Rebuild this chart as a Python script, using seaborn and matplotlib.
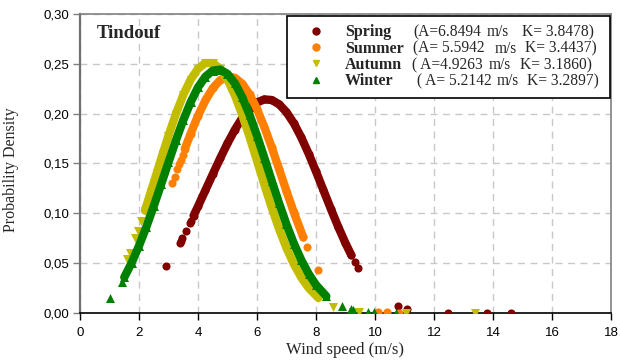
import matplotlib
matplotlib.use("Agg")
import matplotlib.pyplot as plt
import seaborn as sns
import pandas as pd
from matplotlib.lines import Line2D

# ---------------- data ----------------
seasons = ["Spring", "Summer", "Autumn", "Winter"]
A_text = ["(A=6.8494", "(A= 5.5942", "( A=4.9263", "( A= 5.2142"]
unit_text = ["m/s", "m/s", "m/s", "m/s"]
K_text = ["K= 3.8478)", "K= 3.4437)", "K= 3.1860)", "K= 3.2897)"]

# continuous (densely sampled) part of each curve
spring_x = [3.85, 4.0, 4.25, 4.5, 4.75, 5.0, 5.25, 5.5, 5.75, 6.0, 6.25, 6.5,
            6.75, 7.0, 7.25, 7.5, 7.75, 8.0, 8.25, 8.5, 8.75, 9.0, 9.2]
spring_y = [0.0977, 0.1070, 0.1231, 0.1392, 0.1551, 0.1702, 0.1839, 0.1957,
            0.2050, 0.2113, 0.2143, 0.2137, 0.2094, 0.2015, 0.1903, 0.1762,
            0.1599, 0.1420, 0.1233, 0.1047, 0.0867, 0.0700, 0.0579]
summer_x = [3.55, 3.75, 4.0, 4.25, 4.5, 4.75, 5.0, 5.25, 5.5, 5.75, 6.0, 6.25,
            6.5, 6.75, 7.0, 7.25, 7.57]
summer_y = [0.1644, 0.1800, 0.1979, 0.2133, 0.2255, 0.2336, 0.2372, 0.2360,
            0.2300, 0.2193, 0.2046, 0.1865, 0.1661, 0.1443, 0.1223, 0.1009,
            0.0758]
autumn_x = [2.2, 2.4, 2.6, 2.8, 3.0, 3.25, 3.5, 3.75, 4.0, 4.25, 4.5, 4.75,
            5.0, 5.25, 5.5, 5.75, 6.0, 6.25, 6.5, 6.75, 7.0, 7.25, 7.5, 7.75,
            8.08]
autumn_y = [0.1028, 0.1214, 0.1404, 0.1594, 0.1780, 0.1997, 0.2188, 0.2342,
            0.2451, 0.2508, 0.2508, 0.2452, 0.2341, 0.2184, 0.1988, 0.1765,
            0.1527, 0.1287, 0.1056, 0.0842, 0.0652, 0.0490, 0.0357, 0.0252,
            0.0151]
winter_x = [1.5, 1.75, 2.0, 2.25, 2.5, 2.75, 3.0, 3.25, 3.5, 3.75, 4.0, 4.25,
            4.5, 4.75, 5.0, 5.25, 5.5, 5.75, 6.0, 6.25, 6.5, 6.75, 7.0, 7.25,
            7.5, 7.75, 8.0, 8.35]
winter_y = [0.0358, 0.0504, 0.0674, 0.0865, 0.1072, 0.1291, 0.1513, 0.1731,
            0.1934, 0.2115, 0.2264, 0.2371, 0.2432, 0.2442, 0.2399, 0.2305,
            0.2165, 0.1987, 0.1780, 0.1556, 0.1325, 0.1100, 0.0888, 0.0697,
            0.0532, 0.0393, 0.0282, 0.0168]

# isolated points
spring_px = [2.9, 3.38, 3.42, 3.46, 3.59, 3.72, 3.77, 9.32, 9.43, 10.77,
             11.07, 12.49, 13.78, 14.6]
spring_py = [0.0469, 0.0704, 0.0725, 0.0748, 0.0821, 0.0898, 0.0928, 0.0513,
             0.0456, 0.0068, 0.0039, 0.0001, 0.0, 0.0]
summer_px = [3.13, 3.21, 3.30, 3.36, 3.42, 3.48, 7.70, 8.08, 10.1, 10.4, 10.8]
summer_py = [0.1301, 0.1367, 0.1441, 0.1490, 0.1539, 0.1588, 0.0666, 0.0435,
             0.0012, 0.0008, 0.0004]
autumn_px = [1.6, 1.69, 1.88, 1.97, 2.08, 8.57, 9.27, 9.45, 11.05, 13.4]
autumn_py = [0.0538, 0.0604, 0.0752, 0.0826, 0.0921, 0.0063, 0.0014, 0.0009,
             0.0, 0.0]
winter_px = [1.01, 1.41, 8.88, 9.19, 9.24, 9.76, 9.96, 10.7]
winter_py = [0.0147, 0.0312, 0.0067, 0.0036, 0.0034, 0.0010, 0.0007, 0.0001]

x_ticks = [0, 2, 4, 6, 8, 10, 12, 14, 16, 18]
x_tick_labels = ["0", "2", "4", "6", "8", "10", "12", "14", "16", "18"]
y_ticks = [0.0, 0.05, 0.10, 0.15, 0.20, 0.25, 0.30]
y_tick_labels = ["0,00", "0,05", "0,10", "0,15", "0,20", "0,25", "0,30"]

colors = {"Spring": "#800000", "Summer": "#ff8000",
          "Autumn": "#c2bd00", "Winter": "#008000"}
markers = {"Spring": "o", "Summer": "o", "Autumn": "v", "Winter": "^"}
msize = {"Spring": 34, "Summer": 34, "Autumn": 42, "Winter": 42}

curves = {"Spring": (spring_x, spring_y, spring_px, spring_py),
          "Summer": (summer_x, summer_y, summer_px, summer_py),
          "Autumn": (autumn_x, autumn_y, autumn_px, autumn_py),
          "Winter": (winter_x, winter_y, winter_px, winter_py)}

band_frames, point_frames = [], []
for s in seasons:
    bx, by, px, py = curves[s]
    band_frames.append(pd.DataFrame({"speed": bx, "density": by, "season": s}))
    point_frames.append(pd.DataFrame({"speed": list(bx) + list(px),
                                      "density": list(by) + list(py),
                                      "season": s}))
band = pd.concat(band_frames, ignore_index=True)
points = pd.concat(point_frames, ignore_index=True)

# ---------------- style ----------------
sns.set_style("ticks")
plt.rcParams["font.family"] = ["Liberation Sans", "DejaVu Sans"]
plt.rcParams["lines.solid_capstyle"] = "round"
plt.rcParams["lines.solid_joinstyle"] = "round"
SERIF = ["Liberation Serif", "DejaVu Serif"]

fig = plt.figure(figsize=(6.2, 3.64), dpi=100)
ax = fig.add_axes([0.12903, 0.14011, 0.85645, 0.82143])

for i, s in enumerate(seasons):
    sns.lineplot(data=band[band.season == s], x="speed", y="density",
                 color=colors[s], linewidth=6, sort=False, estimator=None,
                 ax=ax, zorder=3 + i, legend=False)
    sns.scatterplot(data=points[points.season == s], x="speed", y="density",
                    color=colors[s], marker=markers[s], s=msize[s],
                    linewidth=0, ax=ax, zorder=3 + i, legend=False)

ax.set_xlim(0, 18)
ax.set_ylim(0, 0.30)
ax.set_xticks(x_ticks)
ax.set_xticklabels(x_tick_labels)
ax.set_yticks(y_ticks)
ax.set_yticklabels(y_tick_labels)
ax.tick_params(axis="y", direction="out", length=5, width=1, color="#7f7f7f",
               pad=3, labelsize=9.5, labelcolor="black")
ax.tick_params(axis="x", direction="out", length=5, width=1, color="black",
               pad=5, labelsize=9.5, labelcolor="black")

ax.grid(True, color="#c8c8c8", linestyle=(0, (5, 4)), linewidth=1)
ax.set_axisbelow(True)

for side in ["top", "right"]:
    ax.spines[side].set_visible(True)
    ax.spines[side].set_color("#808080")
    ax.spines[side].set_linewidth(1.2)
ax.spines["left"].set_color("#707070")
ax.spines["left"].set_linewidth(1.6)
ax.spines["bottom"].set_color("black")
ax.spines["bottom"].set_linewidth(1.2)

ax.set_xlabel("Wind speed (m/s)", fontfamily=SERIF, fontsize=12)
ax.set_ylabel("Probability Density", fontfamily=SERIF, fontsize=11.5)
ax.xaxis.set_label_coords(0.5, -0.097)
ax.yaxis.set_label_coords(-0.115, 0.478)

ax.text(0.032, 0.936, "Tindouf", transform=ax.transAxes, ha="left",
        va="center", fontfamily=SERIF, fontweight="bold", fontsize=13.5)

handles = [Line2D([], [], linestyle="none", marker=markers[s],
                  color=colors[s], markersize=5) for s in seasons]
leg = ax.legend(handles, seasons, loc="upper left",
                bbox_to_anchor=(0.3898, 0.0, 0.608, 0.9933), mode="expand",
                borderaxespad=0,
                prop={"family": SERIF, "weight": "bold", "size": 11.5},
                frameon=True, fancybox=False, edgecolor="black",
                framealpha=1, handlelength=2.6, handletextpad=0.5,
                borderpad=0.52, labelspacing=0.02)
leg.get_frame().set_linewidth(1.2)
leg.set_zorder(10)

fig.canvas.draw()
inv = ax.transAxes.inverted()
a_pos = [0.6271, 0.6271, 0.6247, 0.6341]
u_pos = [0.7660, 0.7815, 0.7702, 0.7847]
k_pos = [0.8320, 0.8380, 0.8286, 0.8412]
for i, t in enumerate(leg.get_texts()):
    bb = t.get_window_extent()
    yc = inv.transform((0, (bb.y0 + bb.y1) / 2))[1]
    for txt, xp in ((A_text[i], a_pos[i]), (unit_text[i], u_pos[i]),
                    (K_text[i], k_pos[i])):
        ax.text(xp, yc, txt, transform=ax.transAxes, ha="left", va="center",
                fontfamily=SERIF, fontsize=11.2, zorder=11)

fig.savefig("out.png", dpi=100)
